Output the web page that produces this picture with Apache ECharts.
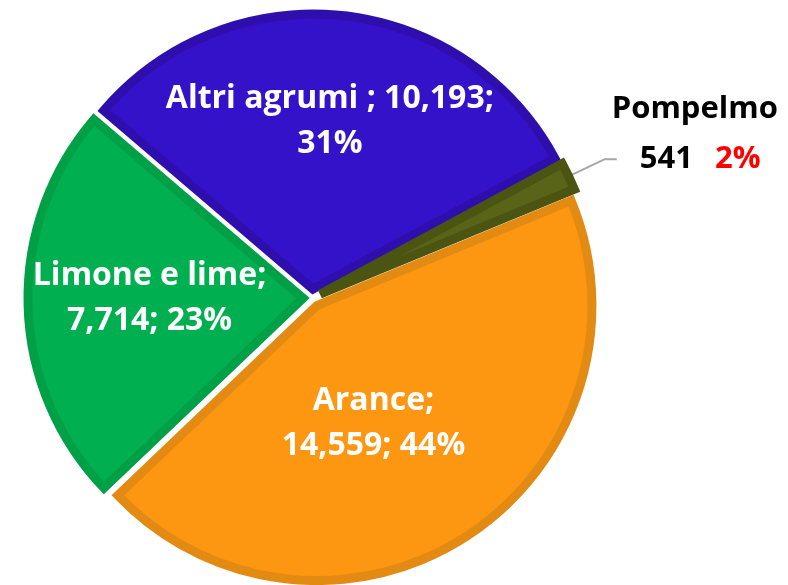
<!DOCTYPE html>
<html>
<head>
<meta charset="utf-8">
<script src="https://cdn.jsdelivr.net/npm/echarts@6/dist/echarts.min.js"></script>
<style>
  html, body { margin: 0; padding: 0; background: #fff; }
  #chart { width: 788px; height: 585px; }
</style>
</head>
<body>
<div id="chart"></div>
<script>
// data
var categories = ['Altri agrumi', 'Pompelmo', 'Arance', 'Limone e lime'];
var values = [10193, 541, 14559, 7714];
var fillColors = ['#3412C9', '#5A6418', '#FD9712', '#00B050'];
var edgeColors = ['#2E0FAE', '#4B5410', '#E38A12', '#00A046'];

var chart = echarts.init(document.getElementById('chart'));

function fmt(n) {
  return n.toLocaleString('en-US');
}

var labelFont = 'Open Sans';

// label nudges (px) so the text sits where the reference puts it
var labelShift = [[2, -28], [-10, -25], [-20, 0], [-13, -4]];

var pieData = categories.map(function (name, i) {
  var item = {
    name: name,
    value: values[i],
    selected: true,
    itemStyle: { color: fillColors[i], borderColor: edgeColors[i] }
  };
  if (name === 'Pompelmo') {
    item.label = {
      position: 'outside',
      align: 'left',
      formatter: function (p) {
        return '{t|' + p.name + '}\n{v|' + fmt(p.value) + '}{r|' + p.percent + '%}';
      },
      rich: {
        t: { color: '#000', fontSize: 31, fontWeight: 'bold', fontFamily: labelFont, lineHeight: 50 },
        v: { color: '#000', fontSize: 31, fontWeight: 'bold', fontFamily: labelFont, lineHeight: 50, padding: [0, 0, 0, 28] },
        r: { color: '#FF0000', fontSize: 31, fontWeight: 'bold', fontFamily: labelFont, lineHeight: 50, padding: [0, 0, 0, 22] }
      }
    };
    item.labelLine = { show: true, length: 40, length2: 12, lineStyle: { color: '#A6A6A6', width: 2 } };
  }
  return item;
});

var option = {
  backgroundColor: '#fff',
  animation: false,
  series: [{
    type: 'pie',
    center: [312, 298],
    radius: 275,
    startAngle: 139.5,
    clockwise: true,
    selectedMode: 'multiple',
    selectedOffset: 9,
    percentPrecision: 0,
    avoidLabelOverlap: false,
    itemStyle: { borderWidth: 9, borderJoin: 'miter' },
    label: {
      show: true,
      position: 'inside',
      color: '#fff',
      fontFamily: labelFont,
      fontWeight: 'bold',
      fontSize: 32,
      lineHeight: 45,
      formatter: function (p) {
        if (p.name === 'Altri agrumi') return p.name + ' ; ' + fmt(p.value) + ';\n' + p.percent + '%';
        return p.name + ';\n' + fmt(p.value) + '; ' + p.percent + '%';
      }
    },
    labelLine: { show: false },
    labelLayout: function (params) {
      var s = labelShift[params.dataIndex];
      return { dx: s[0], dy: s[1] };
    },
    emphasis: { disabled: true },
    data: pieData
  }]
};

chart.setOption(option);
</script>
</body>
</html>
